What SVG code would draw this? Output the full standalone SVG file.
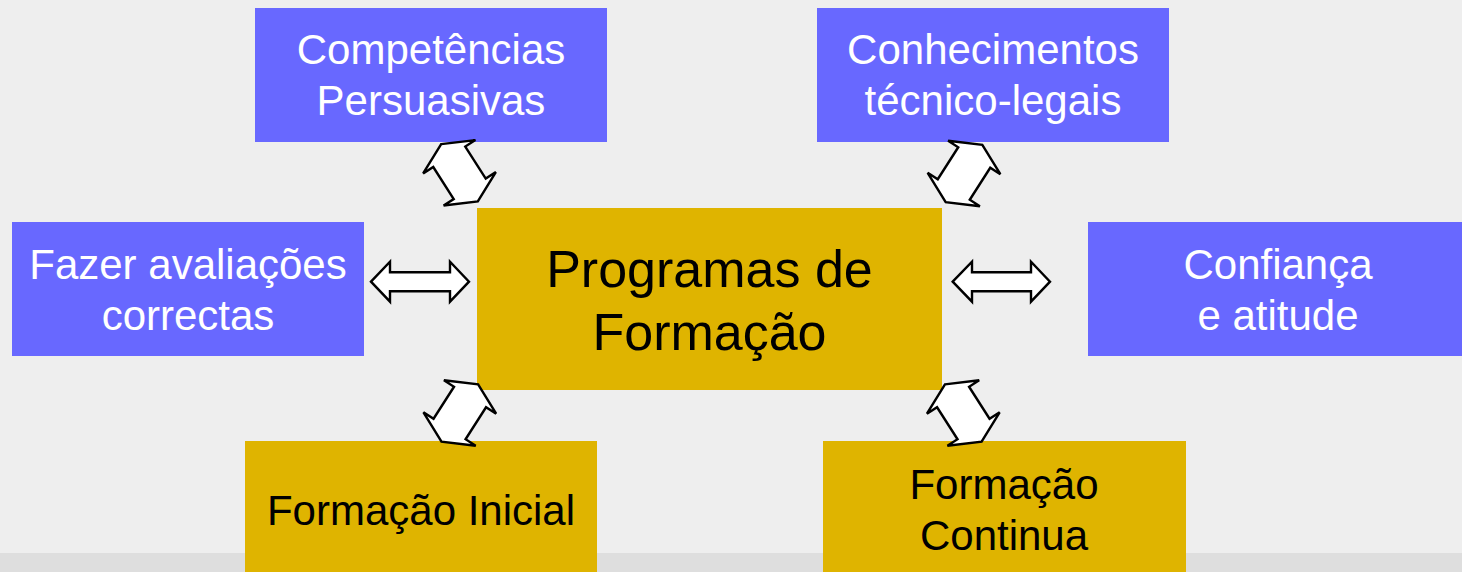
<svg xmlns="http://www.w3.org/2000/svg" width="1462" height="572" viewBox="0 0 1462 572">
  <defs>
    <style>
      .blue { fill: #6868ff; }
      .gold { fill: #dfb400; }
      .wt { fill: #ffffff; font-family: "Liberation Sans", Arial, sans-serif; font-size: 42px; text-anchor: middle; }
      .bt { fill: #000000; font-family: "Liberation Sans", Arial, sans-serif; font-size: 42px; text-anchor: middle; }
      .big { fill: #000000; font-family: "Liberation Sans", Arial, sans-serif; font-size: 52px; text-anchor: middle; }
      .arr { fill: #ffffff; stroke: #000000; stroke-width: 2.4; stroke-linejoin: miter; }
    </style>
    <polygon id="diag" points="0,-34 31,-19 19,-19 19,19 31,19 0,34 -31,19 -19,19 -19,-19 -31,-19"/>
  </defs>

  <!-- background -->
  <rect x="0" y="0" width="1462" height="572" fill="#eeeeee"/>
  <rect x="0" y="553" width="1462" height="19" fill="#dedede"/>

  <g id="n-competencias">
    <rect class="blue" x="255" y="8" width="352" height="134"/>
    <text class="wt" x="431" y="64">Competências</text>
    <text class="wt" x="431" y="115">Persuasivas</text>
  </g>

  <g id="n-conhecimentos">
    <rect class="blue" x="817" y="8" width="352" height="134"/>
    <text class="wt" x="993" y="64">Conhecimentos</text>
    <text class="wt" x="993" y="115">técnico-legais</text>
  </g>

  <g id="n-avaliacoes">
    <rect class="blue" x="12" y="222" width="352" height="134"/>
    <text class="wt" x="188" y="279">Fazer avaliações</text>
    <text class="wt" x="188" y="330">correctas</text>
  </g>

  <g id="n-confianca">
    <rect class="blue" x="1088" y="222" width="374" height="134"/>
    <text class="wt" x="1278" y="279">Confiança</text>
    <text class="wt" x="1278" y="330">e atitude</text>
  </g>

  <g id="n-programas">
    <rect class="gold" x="477" y="208" width="465" height="182"/>
    <text class="big" x="709.5" y="287">Programas de</text>
    <text class="big" x="709.5" y="350">Formação</text>
  </g>

  <g id="n-inicial">
    <rect class="gold" x="245" y="441" width="352" height="131"/>
    <text class="bt" x="421" y="525">Formação Inicial</text>
  </g>

  <g id="n-continua">
    <rect class="gold" x="823" y="441" width="363" height="131"/>
    <text class="bt" x="1004" y="499">Formação</text>
    <text class="bt" x="1004" y="550">Continua</text>
  </g>

  <!-- connectors -->
  <g id="connectors">
    <polygon class="arr" points="371,281.7 390,261.7 390,272.2 450,272.2 450,261.7 469,281.7 450,301.7 450,291.2 390,291.2 390,301.7"/>
    <polygon class="arr" points="952.7,281.7 972,261.7 972,272.2 1031,272.2 1031,261.7 1050,281.7 1031,301.7 1031,291.2 972,291.2 972,301.7"/>
    <use href="#diag" class="arr" transform="translate(459.5,172.8) rotate(-32.6)"/>
    <use href="#diag" class="arr" transform="translate(964,173.5) rotate(32.6)"/>
    <use href="#diag" class="arr" transform="translate(459.8,413) rotate(32.6)"/>
    <use href="#diag" class="arr" transform="translate(963.3,413) rotate(-32.6)"/>
  </g>
</svg>
